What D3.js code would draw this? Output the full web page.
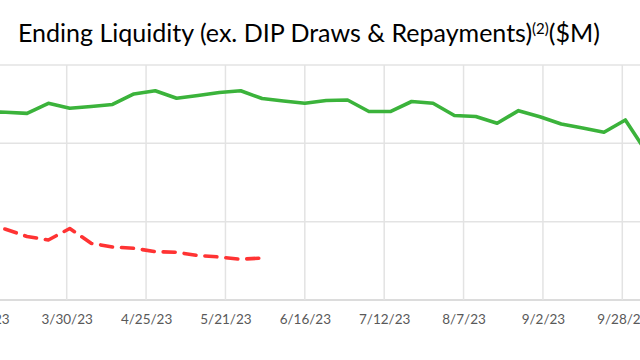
<!DOCTYPE html>
<html>
<head>
<meta charset="utf-8">
<script src="https://cdn.jsdelivr.net/npm/d3@7"></script>
<style>
  html, body { margin: 0; padding: 0; background: #fff; }
  svg { display: block; }
</style>
</head>
<body>
<svg id="chart" width="640" height="360"></svg>
<script>
// ---- data (weekly, Fridays) ----
const dates = ["3/3/23","3/10/23","3/17/23","3/24/23","3/31/23","4/7/23","4/14/23","4/21/23","4/28/23",
  "5/5/23","5/12/23","5/19/23","5/26/23","6/2/23","6/9/23","6/16/23","6/23/23","6/30/23","7/7/23",
  "7/14/23","7/21/23","7/28/23","8/4/23","8/11/23","8/18/23","8/25/23","9/1/23","9/8/23","9/15/23",
  "9/22/23","9/29/23","10/6/23"];
const actualLiquidity = [240.5, 239.6, 238.3, 251.1, 244.7, 247.0, 249.6, 263.0, 267.2, 257.5, 261.1, 264.9,
  267.2, 257.2, 254.1, 251.1, 254.7, 255.3, 240.6, 240.6, 253.4, 251.1, 235.5, 234.3, 225.6, 241.7,
  234.0, 224.7, 219.6, 214.1, 229.8, 188.2];
const forecastDates = ["3/3/23","3/10/23","3/17/23","3/24/23","3/31/23","4/7/23","4/14/23","4/21/23",
  "4/28/23","5/5/23","5/12/23","5/19/23","5/26/23","6/2/23"];
const forecastLiquidity = [96.0, 90.4, 81.1, 76.6, 91.3, 72.4, 67.7, 66.0, 61.7, 60.9, 56.8, 54.9, 52.0, 53.6];
const xTickLabels = ["3/4/23","3/30/23","4/25/23","5/21/23","6/16/23","7/12/23","8/7/23","9/2/23","9/28/23","10/24/23"];
const yTicks = [0, 100, 200, 300];
const title = "Ending Liquidity (ex. DIP Draws & Repayments)";
const titleSup = "(2)";
const titleTail = "($M)";

// ---- chart ----
const parse = d3.utcParse("%m/%d/%y");
const svg = d3.select("#chart");

const x = d3.scaleUtc()
  .domain([parse("3/30/23"), parse("9/28/23")])
  .range([66.7, 622.3]);
const y = d3.scaleLinear().domain([0, 300]).range([300, 65]);

const plotLeft = -60, plotRight = 720;

// horizontal gridlines
svg.append("g").selectAll("line").data(yTicks).join("line")
  .attr("x1", plotLeft).attr("x2", plotRight)
  .attr("y1", d => y(d)).attr("y2", d => y(d))
  .attr("stroke", d => d === 0 ? "#d0d0d0" : "#e3e3e3")
  .attr("stroke-width", 1.5);

// vertical gridlines
const tickDates = xTickLabels.map(parse);
svg.append("g").selectAll("line").data(tickDates).join("line")
  .attr("x1", d => x(d)).attr("x2", d => x(d))
  .attr("y1", y(300)).attr("y2", y(0))
  .attr("stroke", "#e3e3e3")
  .attr("stroke-width", 1.5);

// x axis labels via d3 axis
const xAxis = d3.axisBottom(x)
  .tickValues(tickDates)
  .tickFormat((d, i) => xTickLabels[i])
  .tickSize(0)
  .tickPadding(14);
const gx = svg.append("g").attr("transform", `translate(0,${y(0)})`).call(xAxis);
gx.select(".domain").remove();
gx.selectAll("text")
  .attr("fill", "#595959")
  .style("font-family", "Lato, 'Open Sans', sans-serif")
  .style("font-size", "13.5px");

const line = d3.line().x(d => x(d[0])).y(d => y(d[1]));

svg.append("path")
  .datum(dates.map((d, i) => [parse(d), actualLiquidity[i]]))
  .attr("d", line)
  .attr("fill", "none")
  .attr("stroke", "#3bb33b")
  .attr("stroke-width", 3.6)
  .attr("stroke-linejoin", "round");

svg.append("path")
  .datum(forecastDates.map((d, i) => [parse(d), forecastLiquidity[i]]))
  .attr("d", line)
  .attr("fill", "none")
  .attr("stroke", "#ff3333")
  .attr("stroke-width", 3.6)
  .attr("stroke-dasharray", "12,9")
  .attr("stroke-linecap", "round")
  .attr("stroke-linejoin", "round");

// title (sized to span the same width as in the reference)
const t = svg.append("text")
  .attr("x", 18).attr("y", 42)
  .attr("fill", "#000")
  .style("font-family", "Lato, 'Open Sans', sans-serif")
  .style("font-size", "22px");
t.append("tspan").text(title);
const sup = t.append("tspan").text(titleSup).attr("dy", -8).style("font-size", "13px");
t.append("tspan").text(titleTail).attr("dy", 8);
const w = t.node().getComputedTextLength();
const fs = 22 * 582 / w;
t.style("font-size", fs + "px");
sup.style("font-size", (fs * 0.6) + "px");
</script>
</body>
</html>
